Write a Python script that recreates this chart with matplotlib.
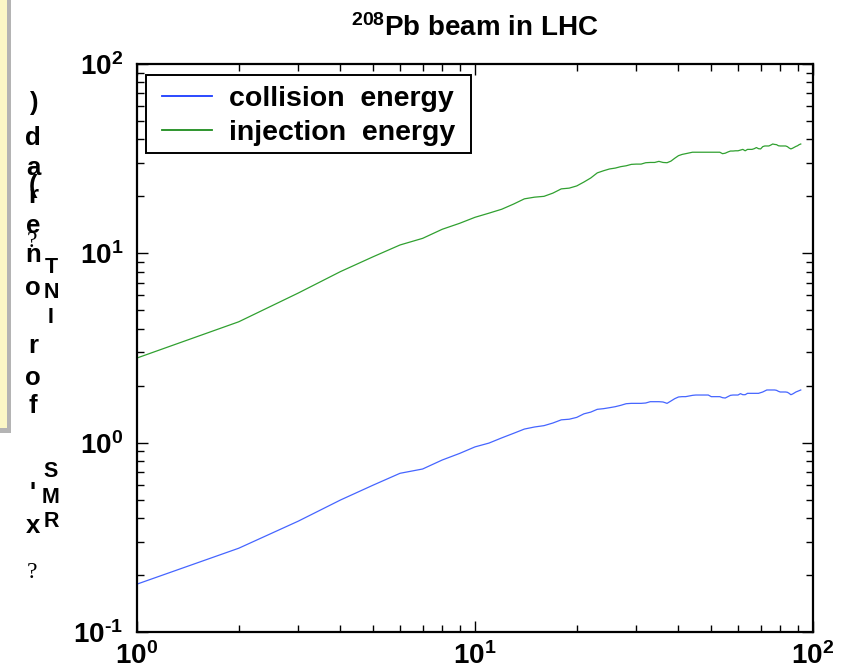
import numpy as np
import matplotlib
matplotlib.use('Agg')
import matplotlib.pyplot as plt
from matplotlib.patches import Rectangle
from matplotlib.ticker import FuncFormatter, NullFormatter

plt.rcParams['font.family'] = ['Liberation Sans', 'DejaVu Sans']
plt.rcParams['mathtext.fontset'] = 'custom'
plt.rcParams['mathtext.bf'] = 'Liberation Sans:bold'
plt.rcParams['mathtext.rm'] = 'Liberation Sans:bold'
plt.rcParams['mathtext.default'] = 'bf'

# ---- data ----
turns = list(range(1, 93))
collision = [0.179, 0.277, 0.385, 0.498, 0.597, 0.689, 0.726, 0.810, 0.877, 0.950,
             0.995, 1.06, 1.12, 1.18, 1.21, 1.23, 1.27, 1.32, 1.33, 1.36,
             1.42, 1.45, 1.50, 1.512, 1.530, 1.549, 1.575, 1.606, 1.613, 1.613,
             1.613, 1.620, 1.646, 1.646, 1.646, 1.640, 1.613, 1.660, 1.708, 1.743,
             1.750, 1.750, 1.764, 1.778, 1.785, 1.785, 1.785, 1.785, 1.785, 1.750,
             1.750, 1.750, 1.750, 1.728, 1.721, 1.750, 1.778, 1.785, 1.785, 1.785,
             1.815, 1.792, 1.792, 1.822, 1.822, 1.822, 1.822, 1.822, 1.822, 1.837,
             1.852, 1.875, 1.898, 1.898, 1.898, 1.898, 1.898, 1.890, 1.867, 1.852,
             1.852, 1.852, 1.852, 1.845, 1.822, 1.792, 1.807, 1.829, 1.852, 1.867,
             1.882, 1.898]
injection = [2.80, 4.35, 6.17, 8.01, 9.60, 11.07, 12.0, 13.4, 14.4, 15.5,
             16.3, 17.1, 18.2, 19.4, 19.8, 20.0, 20.8, 21.9, 22.1, 22.7,
             23.8, 25.0, 26.6, 27.3, 27.9, 28.2, 28.7, 29.0, 29.5, 29.6,
             29.6, 30.1, 30.2, 30.2, 30.6, 30.2, 30.1, 30.7, 31.8, 32.8,
             33.3, 33.6, 33.9, 34.2, 34.2, 34.2, 34.2, 34.2, 34.2, 34.2,
             34.2, 34.2, 34.2, 33.6, 33.8, 34.3, 34.7, 34.7, 34.8, 34.8,
             35.1, 35.4, 34.8, 35.4, 35.4, 35.4, 35.7, 36.2, 35.7, 35.6,
             36.6, 36.9, 36.9, 36.9, 37.3, 37.8, 37.6, 37.5, 37.0, 36.9,
             36.9, 36.9, 36.9, 36.6, 36.0, 35.6, 35.9, 36.3, 36.7, 37.0,
             37.5, 37.8]
series_labels = ['collision  energy', 'injection  energy']
title_text = r'$^{208}$Pb beam in LHC'
ylabel_col1 = [')', 'd', 'a', '(', 'r', 'e', '?', 'n', 'o', 'r', 'o', 'f', "'", 'x', '?']
ylabel_col2 = ['T', 'N', 'I', 'S', 'M', 'R']

W, H = 850, 669
fig = plt.figure(figsize=(W / 100, H / 100), dpi=100)
L, R, T, B = 137, 813, 64, 632
ax = fig.add_axes([L / W, 1 - B / H, (R - L) / W, (B - T) / H])

ax.plot(turns, collision, color='#4565ff', lw=0.9, label=series_labels[0])
ax.plot(turns, injection, color='#30a030', lw=0.9, label=series_labels[1])
ax.set_xscale('log')
ax.set_yscale('log')
ax.set_xlim(1, 100)
ax.set_ylim(0.1, 100)


def expfmt(v, p):
    e = int(round(np.log10(v)))
    if e < 0:
        return r'$10^{\text{-}%d}$' % (-e)
    return r'$10^{%d}$' % e


fmt = FuncFormatter(expfmt)
ax.xaxis.set_major_formatter(fmt)
ax.yaxis.set_major_formatter(fmt)
ax.xaxis.set_minor_formatter(NullFormatter())
ax.yaxis.set_minor_formatter(NullFormatter())
ax.tick_params(which='both', direction='in', top=True, right=True, width=1.0, colors='black')
ax.tick_params(which='major', length=8, labelsize=20)
ax.tick_params(which='minor', length=5)
ax.tick_params(axis='x', which='major', pad=7)
ax.tick_params(axis='y', which='major', pad=10)
for s in ax.spines.values():
    s.set_linewidth(1.6)
    s.set_color('black')

ax.set_title(title_text, fontsize=20, fontweight='bold', pad=20)

leg = ax.legend(loc='upper left', bbox_to_anchor=(162 / W, 1 - 86 / H),
                bbox_transform=fig.transFigure,
                borderaxespad=0, borderpad=0, prop={'weight': 'bold', 'size': 20.5},
                handlelength=1.75, handletextpad=0.62,
                labelspacing=0.28, frameon=False)
for h, c in zip(leg.get_lines(), ['#1a3cff', '#1e8c1e']):
    h.set_color(c)
    h.set_linewidth(1.3)
leg.set_zorder(6)
ax.add_patch(Rectangle((146 / W, 1 - 153 / H), (471 - 146) / W, (153 - 75) / H,
                       transform=fig.transFigure, facecolor='white',
                       edgecolor='black', linewidth=1.4, zorder=5, clip_on=False))


# decorative yellow box at left edge
def px_rect(x0, y0, x1, y1, color):
    fig.add_artist(Rectangle((x0 / W, 1 - y1 / H), (x1 - x0) / W, (y1 - y0) / H,
                             transform=fig.transFigure, facecolor=color,
                             edgecolor='none', zorder=0))


px_rect(0, 0, 11, 433, '#b4b4b4')
px_rect(0, 0, 7, 428, '#fbf7c6')

# garbled vertical y-label, drawn character by character
col1_base = [110, 145, 175, 193, 203, 233, 247, 262, 295, 353, 385, 413, 500, 533, 578]
for ch, yb in zip(ylabel_col1, col1_base):
    if ch == '?':
        fig.text(32 / W, 1 - yb / H, ch, fontsize=17, family='Liberation Serif',
                 ha='center', va='baseline')
    else:
        fig.text(33 / W, 1 - yb / H, ch, fontsize=18.5, fontweight='bold',
                 ha='center', va='baseline')
col2_base = [273, 298, 323, 477, 503, 527]
for ch, yb in zip(ylabel_col2, col2_base):
    fig.text(51 / W, 1 - yb / H, ch, fontsize=15.5, fontweight='bold',
             ha='center', va='baseline')

fig.savefig('out.png', dpi=100)
